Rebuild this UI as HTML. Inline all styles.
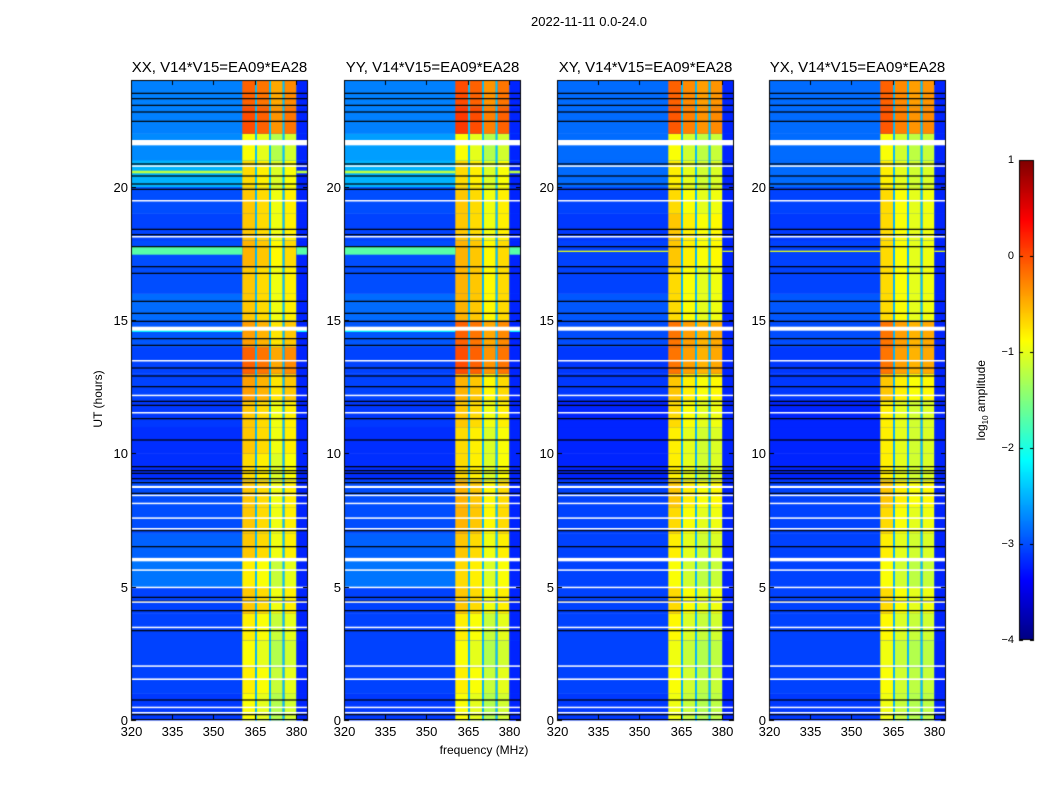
<!DOCTYPE html>
<html><head><meta charset="utf-8">
<style>
body{margin:0;background:#fff;width:1050px;height:800px;position:relative;overflow:hidden;font-family:"Liberation Sans","DejaVu Sans",sans-serif;}
.t{position:absolute;white-space:nowrap;color:#000;}
canvas{position:absolute;}
</style></head><body>
<div class="t" style="left:489px;top:14px;width:200px;text-align:center;font-size:13px;">2022-11-11 0.0-24.0</div>
<div class="t" style="left:384px;top:743px;width:200px;text-align:center;font-size:12px;">frequency (MHz)</div>
<div class="t" style="left:48px;top:392px;width:100px;text-align:center;font-size:12px;transform:rotate(-90deg);">UT (hours)</div>
<div class="t" style="left:932px;top:392px;width:100px;text-align:center;font-size:12px;transform:rotate(-90deg);">log<sub style="font-size:8px">10</sub> amplitude</div>
<canvas id="cv" width="1050" height="800" style="left:0;top:0"></canvas>
<div id="labels"></div>
<script>
// ---- data ----
const panelTitles = ["XX, V14*V15=EA09*EA28","YY, V14*V15=EA09*EA28","XY, V14*V15=EA09*EA28","YX, V14*V15=EA09*EA28"];
const xTicks = [320,335,350,365,380];
const yTicks = [0,5,10,15,20];
const cbTicks = [1,0,-1,-2,-3,-4];
// hourly RFI band level (log10 amplitude) per panel
const bandXX = [-0.9,-0.8,-0.9,-0.8,-0.6,-0.8,-0.6,-0.6,-0.6,-0.7,-0.6,-0.6,-0.4,-0.1,-0.4,-0.6,-0.6,-0.5,-0.6,-0.6,-0.7,-0.9,0.0,-0.1];
const bandYY = [-0.9,-0.8,-0.9,-0.8,-0.6,-0.7,-0.6,-0.5,-0.5,-0.7,-0.7,-0.6,-0.5,0.0,-0.1,-0.5,-0.5,-0.5,-0.6,-0.6,-0.7,-0.9,0.1,0.0];
const bandXY = [-0.95,-0.9,-0.95,-0.85,-0.7,-0.9,-0.8,-0.7,-0.6,-0.8,-0.8,-0.7,-0.6,-0.2,-0.2,-0.7,-0.7,-0.6,-0.6,-0.7,-0.8,-0.9,-0.05,-0.1];
const bandYX = [-0.95,-0.9,-0.95,-0.85,-0.7,-0.9,-0.8,-0.7,-0.6,-0.8,-0.8,-0.8,-0.6,-0.2,-0.2,-0.7,-0.7,-0.7,-0.7,-0.7,-0.8,-0.9,-0.05,-0.1];
// hourly background level per panel
const bgXX = [-3.1,-3.05,-3.05,-3.05,-3.05,-2.8,-2.9,-3,-3,-3.15,-3.15,-3.1,-3.05,-3.05,-2.95,-2.85,-3,-3,-3.05,-3.0,-2.5,-2.7,-2.75,-2.75];
const bgYY = [-3.1,-3.05,-3.05,-3.05,-3.05,-2.8,-2.9,-3,-3,-3.15,-3.15,-3.1,-3.05,-3.05,-2.95,-2.85,-3,-3,-3.05,-3.0,-2.5,-2.6,-2.75,-2.75];
const bgXY = [-3.1,-3.05,-3.05,-3.05,-3.05,-3.05,-3.05,-3.05,-3.05,-3.2,-3.2,-3.2,-3.1,-3.1,-3.0,-2.95,-3.05,-3.05,-3.1,-3.05,-2.85,-2.85,-2.85,-2.85];
const bgYX = [-3.1,-3.05,-3.05,-3.05,-3.05,-3.05,-3.05,-3.05,-3.05,-3.2,-3.2,-3.2,-3.1,-3.1,-3.0,-2.95,-3.05,-3.05,-3.1,-3.05,-2.85,-2.85,-2.85,-2.85];
// bright wideband rows [start hour, end hour, level]
const brightRowsXX = [[17.45,17.75,-1.7],[20.5,20.6,-1.2],[14.55,14.65,-2.2]];
const brightRowsXY = [[17.55,17.6,-1.0]];
// flagged rows
const whiteRows = [[21.55,21.75],[20.75,20.8],[19.45,19.5],[18.1,18.15],[14.6,14.75],[13.45,13.5],[12.15,12.2],[11.5,11.55],[8.7,8.78],[8.4,8.45],[8.1,8.15],[7.55,7.6],[7.15,7.2],[5.95,6.08],[5.6,5.65],[4.95,5.0],[4.4,4.45],[3.45,3.5],[2.0,2.05],[1.5,1.56],[0.45,0.5],[0.25,0.3]];
const blackRows = [23.5,23.3,23.05,22.8,22.45,20.85,20.4,20.1,19.9,18.4,18.2,17.75,17.0,16.75,15.7,15.25,14.95,14.3,14.05,13.2,12.9,12.5,11.95,11.8,11.3,10.5,9.5,9.35,9.25,9.05,8.9,8.5,7.1,6.5,4.6,4.45,4.1,3.35,0.75,0.2];
// RFI band sub-columns [start MHz, end MHz, offset]
const bandCols = [[360.5,365.2,0],[365.8,370.3,-0.1],[370.9,375.2,-0.35],[375.8,380.2,-0.2]];
const bandSeps = [[365.2,365.8],[370.3,370.9],[375.2,375.8]];

const bands=[bandXX,bandYY,bandXY,bandYX], bgs=[bgXX,bgYY,bgXY,bgYX];
const brights=[brightRowsXX,brightRowsXX,brightRowsXY,brightRowsXY];
const panelX=[131,344,557,769], PW=177, PT=80, PB=720;
const FMIN=320, FMAX=384.4, TMIN=0, TMAX=24;

function jet(v){let t=(v+4)/5;t=Math.max(0,Math.min(1,t));
 const r=Math.max(0,Math.min(1,1.5-Math.abs(4*t-3))),g=Math.max(0,Math.min(1,1.5-Math.abs(4*t-2))),b=Math.max(0,Math.min(1,1.5-Math.abs(4*t-1)));
 return `rgb(${Math.round(r*255)},${Math.round(g*255)},${Math.round(b*255)})`;}

const cv=document.getElementById('cv'),ctx=cv.getContext('2d');
const lab=document.getElementById('labels');
function label(txt,x,y,size,align,name){const d=document.createElement('div');d.className='t';d.textContent=txt;d.style.fontSize=size+'px';
 d.style.top=(y-size*0.6)+'px';
 if(align==='center'){d.style.left=(x-100)+'px';d.style.width='200px';d.style.textAlign='center';}
 else if(align==='right'){d.style.left=(x-100)+'px';d.style.width='100px';d.style.textAlign='right';}
 else d.style.left=x+'px';
 
 
 lab.appendChild(d);}

panelX.forEach((px,p)=>{
 const xs=f=>px+(f-FMIN)/(FMAX-FMIN)*PW, ys=h=>PB-(h-TMIN)/(TMAX-TMIN)*(PB-PT);
 const colOff = p>=2 ? [0,-0.2,-0.3,-0.25] : bandCols.map(c=>c[2]);
 for(let h=0;h<24;h++){ctx.fillStyle=jet(bgs[p][h]);ctx.fillRect(px,ys(h+1),PW,ys(h)-ys(h+1)+0.5);
  bandCols.forEach((c,i)=>{ctx.fillStyle=jet(bands[p][h]+colOff[i]);ctx.fillRect(xs(c[0]),ys(h+1),xs(c[1])-xs(c[0]),ys(h)-ys(h+1)+0.5);});
  bandSeps.forEach(s=>{ctx.fillStyle=jet(-2.4);ctx.fillRect(xs(s[0]),ys(h+1),xs(s[1])-xs(s[0]),ys(h)-ys(h+1)+0.5);});
  ctx.fillStyle=jet(-3.2);ctx.fillRect(xs(380.2),ys(h+1),px+PW-xs(380.2),ys(h)-ys(h+1)+0.5);
 }
 brights[p].forEach(r=>{ctx.fillStyle=jet(r[2]);ctx.fillRect(px,ys(r[1]),xs(360.5)-px,ys(r[0])-ys(r[1]));
  ctx.fillRect(xs(380.2),ys(r[1]),px+PW-xs(380.2),ys(r[0])-ys(r[1]));});
 ctx.fillStyle='#000';blackRows.forEach(h=>ctx.fillRect(px,ys(h)-0.6,PW,1.2));
 ctx.fillStyle='#fff';whiteRows.forEach(r=>ctx.fillRect(px,ys(r[1]),PW,Math.max(1.5,ys(r[0])-ys(r[1]))));
 ctx.strokeStyle='#000';ctx.lineWidth=1;ctx.strokeRect(px+0.5,PT+0.5,PW-1,PB-PT-1);
 ctx.beginPath();
 xTicks.forEach(t=>{const x=Math.round(xs(t))+0.5;ctx.moveTo(x,PB);ctx.lineTo(x,PB-5);ctx.moveTo(x,PT);ctx.lineTo(x,PT+5);label(String(t),x,PB+12,13,'center','x-tick-label');});
 yTicks.forEach(t=>{const y=Math.round(ys(t))+0.5;ctx.moveTo(px,y);ctx.lineTo(px+5,y);ctx.moveTo(px+PW,y);ctx.lineTo(px+PW-5,y);label(String(t),px-3,y,13,'right','y-tick-label');});
 ctx.stroke();
 label(panelTitles[p],px+PW/2,68,15,'center','panel-title');
});
// colorbar
const CX=1019,CW=15,CT=160,CB=640;
for(let y=CT;y<CB;y++){const v=1-(y-CT)/(CB-CT)*5;ctx.fillStyle=jet(v);ctx.fillRect(CX,y,CW,1);}
ctx.strokeStyle='#000';ctx.strokeRect(CX+0.5,CT+0.5,CW-1,CB-CT-1);
ctx.beginPath();
cbTicks.forEach(t=>{const y=Math.round(CT+(1-t)/5*(CB-CT))+0.5;ctx.moveTo(CX,y);ctx.lineTo(CX+4,y);ctx.moveTo(CX+CW,y);ctx.lineTo(CX+CW-4,y);
 label(t<0?'\u2212'+(-t):String(t),1014,y,11,'right','colorbar-tick-label');});
ctx.stroke();
</script>
</body></html>
